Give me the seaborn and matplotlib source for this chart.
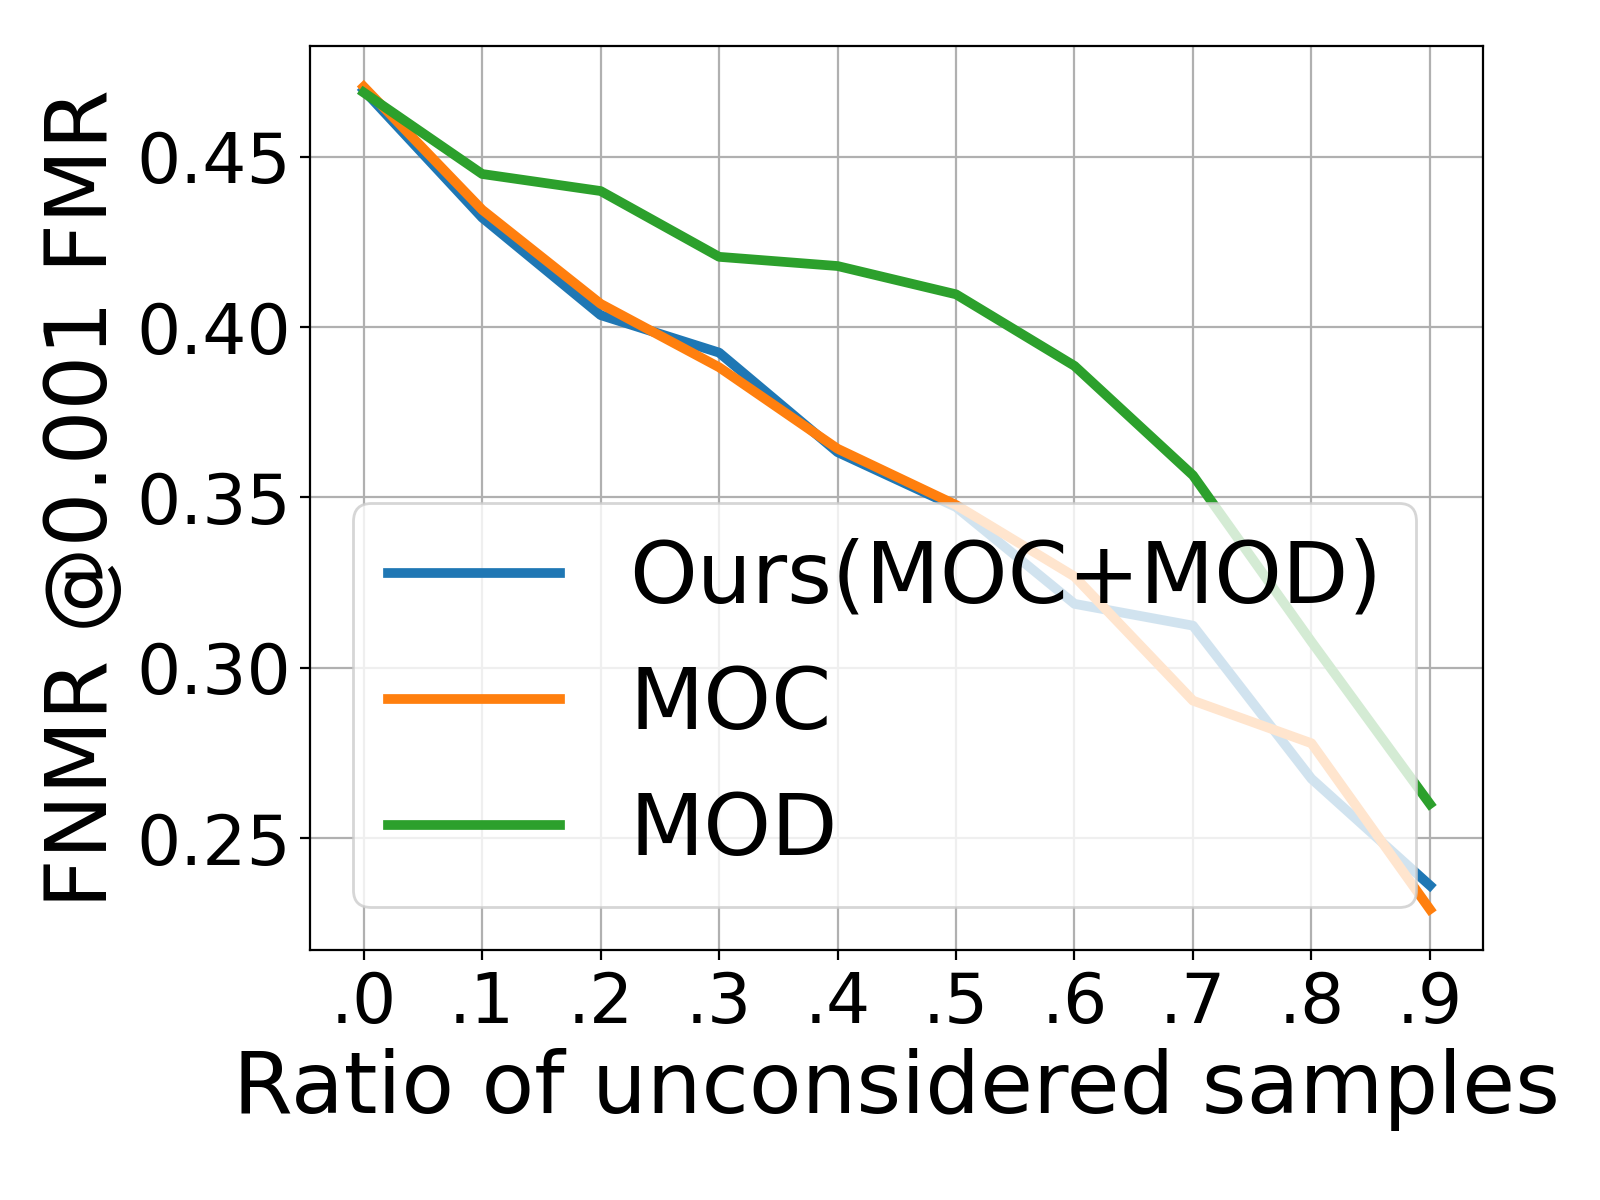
import numpy as np
import pandas as pd
import seaborn as sns
import matplotlib
matplotlib.use("Agg")
import matplotlib.pyplot as plt

# ratio of unconsidered samples
ratios = [0.0, 0.1, 0.2, 0.3, 0.4, 0.5, 0.6, 0.7, 0.8, 0.9]
tick_labels = [".0", ".1", ".2", ".3", ".4", ".5", ".6", ".7", ".8", ".9"]

# FNMR @0.001 FMR for each method
ours = [0.4695, 0.4321, 0.4035, 0.3925, 0.3633, 0.3472, 0.3188, 0.3124, 0.2675, 0.2362]
moc = [0.4705, 0.4344, 0.4068, 0.3882, 0.3643, 0.3478, 0.3268, 0.2904, 0.2779, 0.2292]
mod = [0.4688, 0.4449, 0.4399, 0.4206, 0.4179, 0.4096, 0.3886, 0.3565, 0.3077, 0.2601]

series = {"Ours(MOC+MOD)": ours, "MOC": moc, "MOD": mod}
colors = ["#1f77b4", "#ff7f0e", "#2ca02c"]

df = pd.DataFrame([
    {"ratio": r, "fnmr": v, "method": name}
    for name, vals in series.items()
    for r, v in zip(ratios, vals)
])

fig, ax = plt.subplots(figsize=(8, 6), dpi=200)
sns.lineplot(data=df, x="ratio", y="fnmr", hue="method",
             palette=colors, linewidth=3.5, ax=ax)

ax.grid(True)
ax.set_xticks(ratios)
ax.set_xticklabels(tick_labels)
ax.set_yticks([0.25, 0.30, 0.35, 0.40, 0.45])
ax.tick_params(labelsize=25)
ax.set_xlabel("Ratio of unconsidered samples", fontsize=31)
ax.set_ylabel("FNMR @0.001 FMR", fontsize=31)

leg = ax.legend(loc="lower left", fontsize=31)
for line in leg.get_lines():
    line.set_linewidth(3.5)

plt.subplots_adjust(left=0.194, right=0.927, top=0.962, bottom=0.208)
plt.savefig("out.png", dpi=200)
